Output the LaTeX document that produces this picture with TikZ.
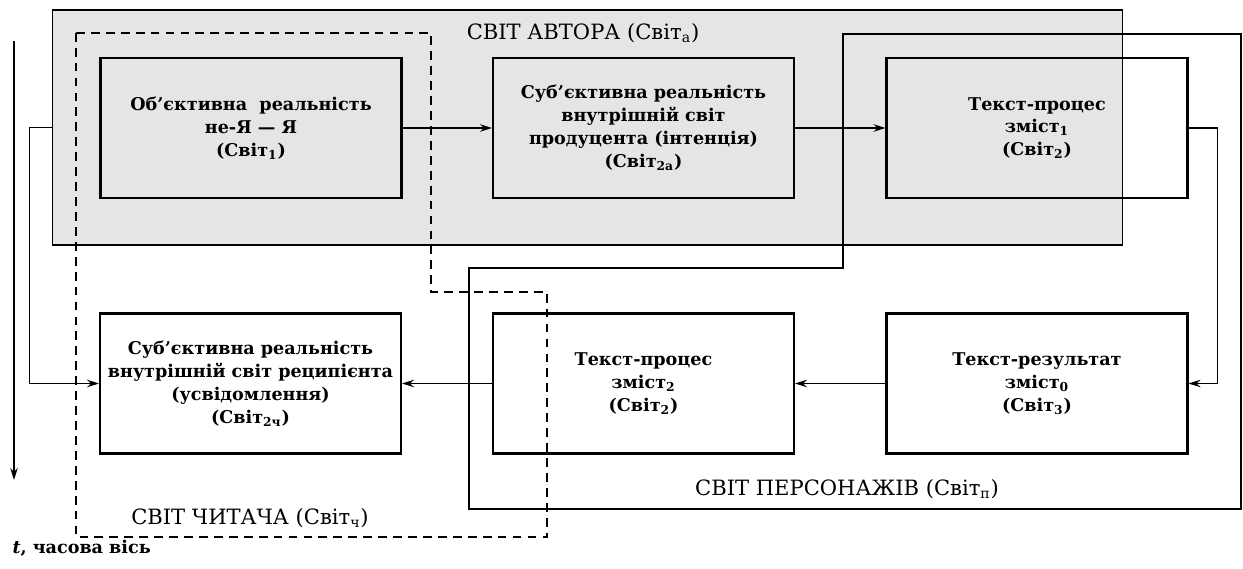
\documentclass[tikz,border=0pt]{standalone}
\usepackage{fontspec}
\setmainfont{DejaVu Serif}
\usetikzlibrary{arrows.meta}

\begin{document}
\begin{tikzpicture}[x=0.02cm,y=-0.02cm,line width=0.6pt,>={Stealth[length=2.4mm,width=1.5mm]},
  blok/.style={draw,line width=1.2pt,minimum width=6.02cm,minimum height=2.8cm,inner sep=0pt,align=center,font=\fontsize{10}{13}\selectfont\bfseries},
  svit/.style={inner sep=0pt,font=\fontsize{12}{14}\selectfont}]
  \useasboundingbox (0,0) rectangle (1243,568);
  % світ автора
  \node[draw,fill=black!10,minimum width=21.42cm,minimum height=4.7cm,inner sep=0pt] (avtor) at (587.5,127.5) {};
  \node[svit] (lavtor) at (583,33) {СВІТ АВТОРА (Світ\textsubscript{а})};
  % світ читача
  \draw[dash pattern=on 5pt off 3.5pt] (76,33) -- (431,33) -- (431,292) -- (547,292) -- (547,537) -- (76,537) -- cycle;
  \node[svit] (lchytach) at (250,518) {СВІТ ЧИТАЧА (Світ\textsubscript{ч})};
  % світ персонажів
  \draw (843,34) -- (1241,34) -- (1241,509) -- (469,509) -- (469,268) -- (843,268) -- cycle;
  \node[svit] (lpersonazh) at (847,489) {СВІТ ПЕРСОНАЖІВ (Світ\textsubscript{п})};
  % блоки
  \node[blok] (b1) at (251,128) {Об’єктивна\ \ реальність\\не-Я — Я\\(Світ\textsubscript{1})};
  \node[blok] (b2) at (643.5,128) {Суб’єктивна реальність\\внутрішній світ\\продуцента (інтенція)\\(Світ\textsubscript{2а})};
  \node[blok] (b3) at (1037,128) {Текст-процес\\зміст\textsubscript{1}\\(Світ\textsubscript{2})};
  \node[blok] (b4) at (250.5,383.5) {Суб’єктивна реальність\\внутрішній світ реципієнта\\(усвідомлення)\\(Світ\textsubscript{2ч})};
  \node[blok] (b5) at (643.5,383.5) {Текст-процес\\зміст\textsubscript{2}\\(Світ\textsubscript{2})};
  \node[blok] (b6) at (1037,383.5) {Текст-результат\\зміст\textsubscript{0}\\(Світ\textsubscript{3})};
  % зв'язки
  \draw[->] (b1) -- (b2);
  \draw[->] (b2) -- (b3);
  \draw[->] (b3.east) -- ++(29,0) |- (b6.east);
  \draw[->] (b6) -- (b5);
  \draw[->] (b5) -- (b4);
  \draw[->] (avtor.west) -- ++(-22,0) |- (b4.west);
  % часова вісь
  \coordinate (t0) at (14,41);
  \coordinate (t1) at (14,480);
  \draw[->] (t0) -- (t1);
  \node[anchor=west,inner sep=0pt,font=\fontsize{10}{12}\selectfont\bfseries] (tlabel) at (12,548) {\textit{t}, часова вісь};
\end{tikzpicture}
\end{document}
